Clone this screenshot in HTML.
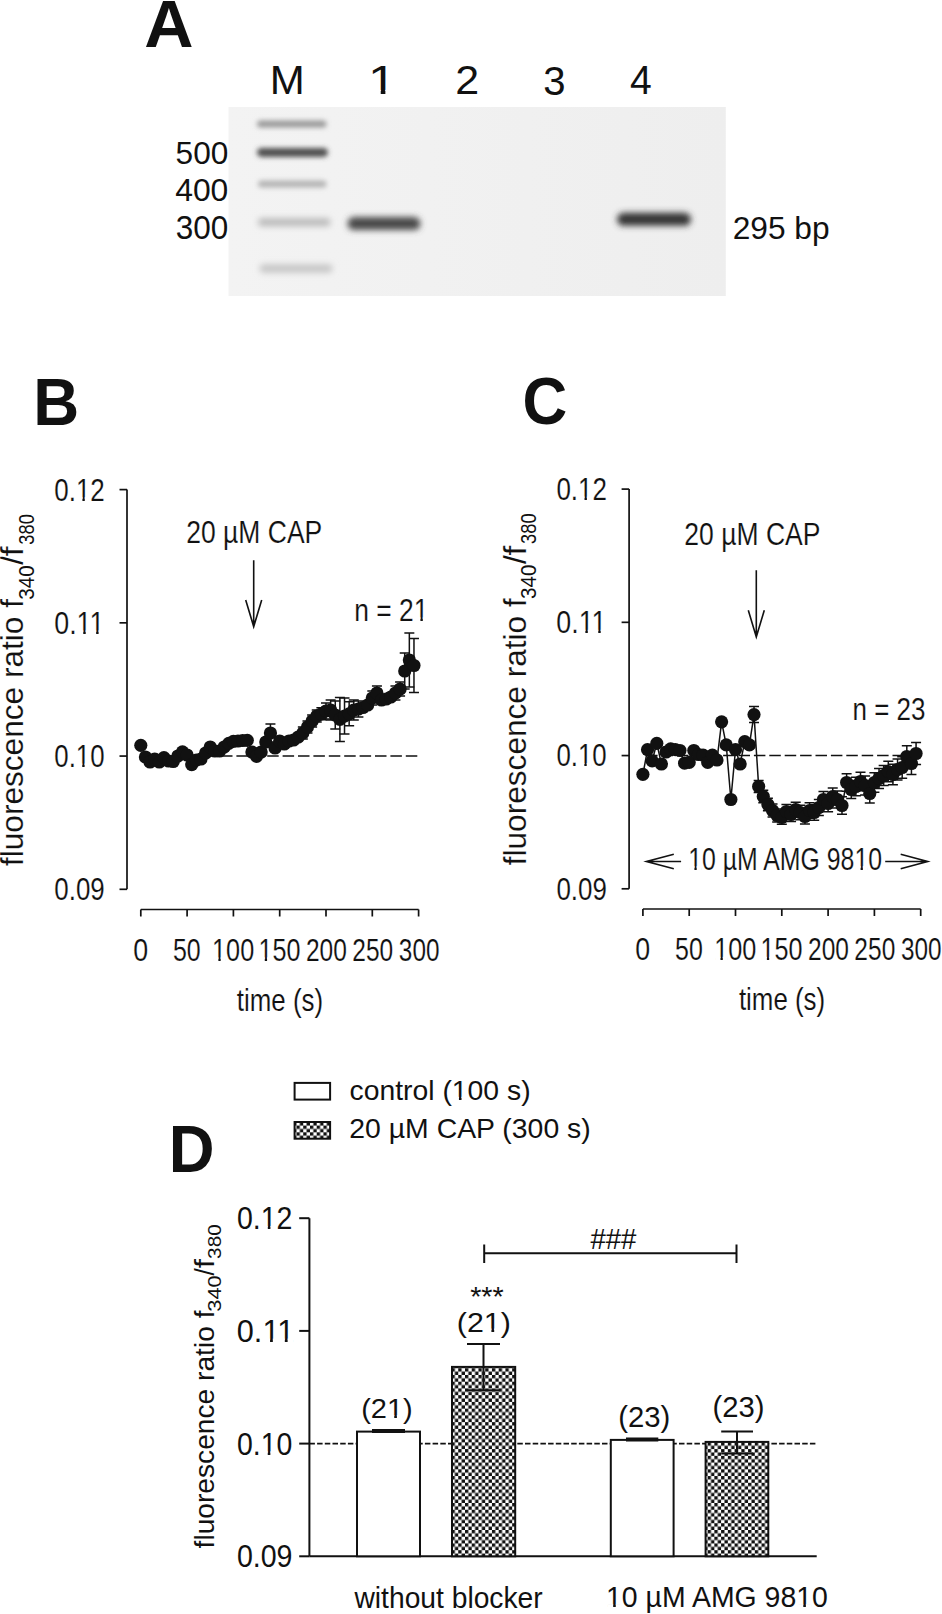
<!DOCTYPE html>
<html><head><meta charset="utf-8"><style>
html,body{margin:0;padding:0;background:#fff;}
svg{display:block;}
text{font-family:"Liberation Sans",sans-serif;}
</style></head><body>
<svg width="942" height="1614" viewBox="0 0 942 1614">
<rect width="942" height="1614" fill="#fff"/>
<g transform="translate(144.30,46.50) scale(1.0188,1)"><text id="t1" font-size="67.01" font-weight="bold" fill="#111">A</text></g>
<g transform="translate(33.14,424.80) scale(0.9453,1)"><text id="t2" font-size="67.3" font-weight="bold" fill="#111">B</text></g>
<g transform="translate(522.56,424.15) scale(0.9272,1)"><text id="t3" font-size="66.81" font-weight="bold" fill="#111">C</text></g>
<g transform="translate(168.66,1171.70) scale(0.9425,1)"><text id="t4" font-size="67.3" font-weight="bold" fill="#111">D</text></g>
<defs><filter id="bl" x="-20%" y="-200%" width="140%" height="500%"><feGaussianBlur stdDeviation="2.2"/></filter><filter id="bl2" x="-20%" y="-200%" width="140%" height="500%"><feGaussianBlur stdDeviation="3"/></filter><filter id="bl3" x="-20%" y="-200%" width="140%" height="500%"><feGaussianBlur stdDeviation="2.6"/></filter><filter id="bl4" x="-20%" y="-200%" width="140%" height="500%"><feGaussianBlur stdDeviation="3"/></filter><linearGradient id="gelg" x1="0" x2="1" y1="0" y2="0"><stop offset="0" stop-color="#f3f3f3"/><stop offset="1" stop-color="#eeeeee"/></linearGradient></defs>
<rect x="228.5" y="107" width="497.3" height="189" fill="url(#gelg)"/>
<rect x="257" y="120.5" width="69.5" height="7" rx="3.5" fill="#999999" filter="url(#bl3)"/>
<rect x="257" y="147.9" width="71" height="9" rx="4.5" fill="#505050" filter="url(#bl3)"/>
<rect x="258" y="180.6" width="68.5" height="7" rx="3.5" fill="#b4b4b4" filter="url(#bl3)"/>
<rect x="258" y="218.3" width="72.5" height="8" rx="4.0" fill="#bababa" filter="url(#bl4)"/>
<rect x="259.5" y="264.35" width="73.0" height="8.5" rx="4.25" fill="#c6c6c6" filter="url(#bl4)"/>
<rect x="347.5" y="217.1" width="73.0" height="13" rx="6.5" fill="#484848" filter="url(#bl4)"/>
<rect x="617" y="212.8" width="74" height="13" rx="6.5" fill="#363636" filter="url(#bl4)"/>
<g transform="translate(269.75,94.40) scale(1.0321,1)"><text id="t5" font-size="40.7" font-weight="normal" fill="#111">M</text></g>
<g transform="translate(368.00,94.40) scale(1.2504,1)"><text id="t6" font-size="40.7" font-weight="normal" fill="#111">1</text><rect x="1.59" y="-4.47" width="8.59" height="5.86" fill="#fff"/><rect x="13.89" y="-4.47" width="8.17" height="5.86" fill="#fff"/></g>
<g transform="translate(455.34,94.40) scale(1.0729,1)"><text id="t7" font-size="40.1" font-weight="normal" fill="#111">2</text></g>
<g transform="translate(543.37,94.50) scale(0.9784,1)"><text id="t8" font-size="40.96" font-weight="normal" fill="#111">3</text></g>
<g transform="translate(630.10,94.20) scale(0.9781,1)"><text id="t9" font-size="39.97" font-weight="normal" fill="#111">4</text></g>
<g transform="translate(175.53,164.09) scale(0.9872,1)"><text id="t10" font-size="32.06" font-weight="normal" fill="#111">500</text></g>
<g transform="translate(175.17,201.19) scale(1.0118,1)"><text id="t11" font-size="31.5" font-weight="normal" fill="#111">400</text></g>
<g transform="translate(175.80,239.48) scale(0.9526,1)"><text id="t12" font-size="33.05" font-weight="normal" fill="#111">300</text></g>
<g transform="translate(732.71,238.90) scale(0.9841,1)"><text id="t13" font-size="32.2" font-weight="normal" fill="#111">295 bp</text></g>
<path d="M127.0,489.6 V889.3" stroke="#111" stroke-width="1.7" fill="none"/>
<path d="M119.5,889.30 H127.0" stroke="#111" stroke-width="1.7"/>
<path d="M119.5,756.07 H127.0" stroke="#111" stroke-width="1.7"/>
<path d="M119.5,622.83 H127.0" stroke="#111" stroke-width="1.7"/>
<path d="M119.5,489.60 H127.0" stroke="#111" stroke-width="1.7"/>
<path d="M140.8,909.5 H418.60" stroke="#111" stroke-width="1.7" fill="none"/>
<path d="M140.80,909.5 V916.5" stroke="#111" stroke-width="1.7"/>
<path d="M187.10,909.5 V916.5" stroke="#111" stroke-width="1.7"/>
<path d="M233.40,909.5 V916.5" stroke="#111" stroke-width="1.7"/>
<path d="M279.70,909.5 V916.5" stroke="#111" stroke-width="1.7"/>
<path d="M326.00,909.5 V916.5" stroke="#111" stroke-width="1.7"/>
<path d="M372.30,909.5 V916.5" stroke="#111" stroke-width="1.7"/>
<path d="M418.60,909.5 V916.5" stroke="#111" stroke-width="1.7"/>
<g transform="translate(133.25,960.87) scale(0.8316,1)"><text id="t14" font-size="32.2" font-weight="normal" fill="#111" stroke="#fff" stroke-width="0.15">0</text></g>
<g transform="translate(172.90,960.87) scale(0.7755,1)"><text id="t15" font-size="32.2" font-weight="normal" fill="#111" stroke="#fff" stroke-width="0.15">50</text></g>
<g transform="translate(212.07,960.87) scale(0.7839,1)"><text id="t16" font-size="32.2" font-weight="normal" fill="#111" stroke="#fff" stroke-width="0.15">100</text><rect x="1.26" y="-3.54" width="6.79" height="4.64" fill="#fff"/><rect x="10.99" y="-3.54" width="6.46" height="4.64" fill="#fff"/></g>
<g transform="translate(258.48,960.87) scale(0.7819,1)"><text id="t17" font-size="32.2" font-weight="normal" fill="#111" stroke="#fff" stroke-width="0.15">150</text><rect x="1.26" y="-3.54" width="6.79" height="4.64" fill="#fff"/><rect x="10.99" y="-3.54" width="6.46" height="4.64" fill="#fff"/></g>
<g transform="translate(305.97,960.87) scale(0.7611,1)"><text id="t18" font-size="32.2" font-weight="normal" fill="#111" stroke="#fff" stroke-width="0.15">200</text></g>
<g transform="translate(352.27,960.87) scale(0.7611,1)"><text id="t19" font-size="32.2" font-weight="normal" fill="#111" stroke="#fff" stroke-width="0.15">250</text></g>
<g transform="translate(398.87,960.87) scale(0.7553,1)"><text id="t20" font-size="32.2" font-weight="normal" fill="#111" stroke="#fff" stroke-width="0.15">300</text></g>
<g transform="translate(54.29,500.50) scale(0.8240,1)"><text id="t21" font-size="31.5" font-weight="normal" fill="#111" stroke="#fff" stroke-width="0.15">0.12</text><rect x="27.49" y="-3.46" width="6.64" height="4.54" fill="#fff"/><rect x="37.01" y="-3.46" width="6.32" height="4.54" fill="#fff"/></g>
<g transform="translate(54.25,633.73) scale(0.8503,1)"><text id="t22" font-size="31.5" font-weight="normal" fill="#111" stroke="#fff" stroke-width="0.15">0.11</text><rect x="27.47" y="-3.46" width="6.64" height="4.54" fill="#fff"/><rect x="37.00" y="-3.46" width="6.32" height="4.54" fill="#fff"/><rect x="42.64" y="-3.46" width="6.64" height="4.54" fill="#fff"/><rect x="52.16" y="-3.46" width="6.32" height="4.54" fill="#fff"/></g>
<g transform="translate(54.29,766.97) scale(0.8191,1)"><text id="t23" font-size="31.5" font-weight="normal" fill="#111" stroke="#fff" stroke-width="0.15">0.10</text><rect x="27.49" y="-3.46" width="6.64" height="4.54" fill="#fff"/><rect x="37.01" y="-3.46" width="6.32" height="4.54" fill="#fff"/></g>
<g transform="translate(54.29,900.20) scale(0.8227,1)"><text id="t24" font-size="31.5" font-weight="normal" fill="#111" stroke="#fff" stroke-width="0.15">0.09</text></g>
<g transform="translate(236.81,1010.60) scale(0.8091,1)"><text id="t25" font-size="32" font-weight="normal" fill="#111" stroke="#fff" stroke-width="0.15">time (s)</text></g>
<path d="M140.8,756.07 H418.60" stroke="#111" stroke-width="1.6" stroke-dasharray="11.5 3.9" stroke-dashoffset="12.2" fill="none"/>
<path d="M270.44,724.00 V742.00 M265.44,724.00 h10 M265.44,742.00 h10" stroke="#111" stroke-width="1.5" fill="none"/>
<path d="M302.85,727.00 V739.00 M297.85,727.00 h10 M297.85,739.00 h10" stroke="#111" stroke-width="1.5" fill="none"/>
<path d="M307.48,721.00 V733.00 M302.48,721.00 h10 M302.48,733.00 h10" stroke="#111" stroke-width="1.5" fill="none"/>
<path d="M312.11,715.00 V727.00 M307.11,715.00 h10 M307.11,727.00 h10" stroke="#111" stroke-width="1.5" fill="none"/>
<path d="M316.74,710.00 V722.00 M311.74,710.00 h10 M311.74,722.00 h10" stroke="#111" stroke-width="1.5" fill="none"/>
<path d="M321.37,707.80 V719.80 M316.37,707.80 h10 M316.37,719.80 h10" stroke="#111" stroke-width="1.5" fill="none"/>
<path d="M326.00,703.00 V719.00 M321.00,703.00 h10 M321.00,719.00 h10" stroke="#111" stroke-width="1.5" fill="none"/>
<path d="M330.63,700.00 V720.00 M325.63,700.00 h10 M325.63,720.00 h10" stroke="#111" stroke-width="1.5" fill="none"/>
<path d="M335.26,701.00 V729.00 M330.26,701.00 h10 M330.26,729.00 h10" stroke="#111" stroke-width="1.5" fill="none"/>
<path d="M339.89,697.40 V741.40 M334.89,697.40 h10 M334.89,741.40 h10" stroke="#111" stroke-width="1.5" fill="none"/>
<path d="M344.52,698.00 V734.00 M339.52,698.00 h10 M339.52,734.00 h10" stroke="#111" stroke-width="1.5" fill="none"/>
<path d="M349.15,701.80 V725.80 M344.15,701.80 h10 M344.15,725.80 h10" stroke="#111" stroke-width="1.5" fill="none"/>
<path d="M353.78,700.00 V720.00 M348.78,700.00 h10 M348.78,720.00 h10" stroke="#111" stroke-width="1.5" fill="none"/>
<path d="M358.41,701.00 V717.00 M353.41,701.00 h10 M353.41,717.00 h10" stroke="#111" stroke-width="1.5" fill="none"/>
<path d="M372.30,691.00 V705.00 M367.30,691.00 h10 M367.30,705.00 h10" stroke="#111" stroke-width="1.5" fill="none"/>
<path d="M376.93,686.00 V700.00 M371.93,686.00 h10 M371.93,700.00 h10" stroke="#111" stroke-width="1.5" fill="none"/>
<path d="M395.45,686.00 V700.00 M390.45,686.00 h10 M390.45,700.00 h10" stroke="#111" stroke-width="1.5" fill="none"/>
<path d="M400.08,682.00 V696.00 M395.08,682.00 h10 M395.08,696.00 h10" stroke="#111" stroke-width="1.5" fill="none"/>
<path d="M404.71,653.00 V689.00 M399.71,653.00 h10 M399.71,689.00 h10" stroke="#111" stroke-width="1.5" fill="none"/>
<path d="M409.34,633.00 V687.00 M404.34,633.00 h10 M404.34,687.00 h10" stroke="#111" stroke-width="1.5" fill="none"/>
<path d="M413.97,638.50 V692.50 M408.97,638.50 h10 M408.97,692.50 h10" stroke="#111" stroke-width="1.5" fill="none"/>
<circle cx="140.80" cy="745.30" r="6.6" fill="#111"/>
<circle cx="145.43" cy="757.00" r="6.6" fill="#111"/>
<circle cx="150.06" cy="762.00" r="6.6" fill="#111"/>
<circle cx="154.69" cy="759.00" r="6.6" fill="#111"/>
<circle cx="159.32" cy="762.00" r="6.6" fill="#111"/>
<circle cx="163.95" cy="757.60" r="6.6" fill="#111"/>
<circle cx="168.58" cy="761.00" r="6.6" fill="#111"/>
<circle cx="173.21" cy="761.50" r="6.6" fill="#111"/>
<circle cx="177.84" cy="756.00" r="6.6" fill="#111"/>
<circle cx="182.47" cy="751.80" r="6.6" fill="#111"/>
<circle cx="187.10" cy="755.00" r="6.6" fill="#111"/>
<circle cx="191.73" cy="764.70" r="6.6" fill="#111"/>
<circle cx="196.36" cy="760.00" r="6.6" fill="#111"/>
<circle cx="200.99" cy="759.00" r="6.6" fill="#111"/>
<circle cx="205.62" cy="753.00" r="6.6" fill="#111"/>
<circle cx="210.25" cy="747.00" r="6.6" fill="#111"/>
<circle cx="214.88" cy="751.00" r="6.6" fill="#111"/>
<circle cx="219.51" cy="751.00" r="6.6" fill="#111"/>
<circle cx="224.14" cy="747.00" r="6.6" fill="#111"/>
<circle cx="228.77" cy="743.30" r="6.6" fill="#111"/>
<circle cx="233.40" cy="741.30" r="6.6" fill="#111"/>
<circle cx="238.03" cy="741.00" r="6.6" fill="#111"/>
<circle cx="242.66" cy="740.50" r="6.6" fill="#111"/>
<circle cx="247.29" cy="740.30" r="6.6" fill="#111"/>
<circle cx="251.92" cy="752.00" r="6.6" fill="#111"/>
<circle cx="256.55" cy="756.30" r="6.6" fill="#111"/>
<circle cx="261.18" cy="752.00" r="6.6" fill="#111"/>
<circle cx="265.81" cy="742.00" r="6.6" fill="#111"/>
<circle cx="270.44" cy="733.00" r="6.6" fill="#111"/>
<circle cx="275.07" cy="748.00" r="6.6" fill="#111"/>
<circle cx="279.70" cy="741.00" r="6.6" fill="#111"/>
<circle cx="284.33" cy="744.00" r="6.6" fill="#111"/>
<circle cx="288.96" cy="741.00" r="6.6" fill="#111"/>
<circle cx="293.59" cy="740.00" r="6.6" fill="#111"/>
<circle cx="298.22" cy="737.00" r="6.6" fill="#111"/>
<circle cx="302.85" cy="733.00" r="6.6" fill="#111"/>
<circle cx="307.48" cy="727.00" r="6.6" fill="#111"/>
<circle cx="312.11" cy="721.00" r="6.6" fill="#111"/>
<circle cx="316.74" cy="716.00" r="6.6" fill="#111"/>
<circle cx="321.37" cy="713.80" r="6.6" fill="#111"/>
<circle cx="326.00" cy="711.00" r="6.6" fill="#111"/>
<circle cx="330.63" cy="710.00" r="6.6" fill="#111"/>
<circle cx="335.26" cy="715.00" r="6.6" fill="#111"/>
<circle cx="339.89" cy="719.40" r="6.6" fill="#111"/>
<circle cx="344.52" cy="716.00" r="6.6" fill="#111"/>
<circle cx="349.15" cy="713.80" r="6.6" fill="#111"/>
<circle cx="353.78" cy="710.00" r="6.6" fill="#111"/>
<circle cx="358.41" cy="709.00" r="6.6" fill="#111"/>
<circle cx="363.04" cy="707.50" r="6.6" fill="#111"/>
<circle cx="367.67" cy="705.00" r="6.6" fill="#111"/>
<circle cx="372.30" cy="698.00" r="6.6" fill="#111"/>
<circle cx="376.93" cy="693.00" r="6.6" fill="#111"/>
<circle cx="381.56" cy="700.00" r="6.6" fill="#111"/>
<circle cx="386.19" cy="699.00" r="6.6" fill="#111"/>
<circle cx="390.82" cy="697.00" r="6.6" fill="#111"/>
<circle cx="395.45" cy="693.00" r="6.6" fill="#111"/>
<circle cx="400.08" cy="689.00" r="6.6" fill="#111"/>
<circle cx="404.71" cy="671.00" r="6.6" fill="#111"/>
<circle cx="409.34" cy="660.00" r="6.6" fill="#111"/>
<circle cx="413.97" cy="665.50" r="6.6" fill="#111"/>
<g transform="translate(354.35,620.80) scale(0.8254,1)"><text id="t26" font-size="32" font-weight="normal" fill="#111" stroke="#fff" stroke-width="0.15">n = 21</text><rect x="73.27" y="-3.52" width="6.75" height="4.61" fill="#fff"/><rect x="82.94" y="-3.52" width="6.42" height="4.61" fill="#fff"/></g>
<path d="M629.1,489.1 V888.8" stroke="#111" stroke-width="1.7" fill="none"/>
<path d="M621.6,888.80 H629.1" stroke="#111" stroke-width="1.7"/>
<path d="M621.6,755.57 H629.1" stroke="#111" stroke-width="1.7"/>
<path d="M621.6,622.33 H629.1" stroke="#111" stroke-width="1.7"/>
<path d="M621.6,489.10 H629.1" stroke="#111" stroke-width="1.7"/>
<path d="M642.9000000000001,909.0 H920.70" stroke="#111" stroke-width="1.7" fill="none"/>
<path d="M642.90,909.0 V916.0" stroke="#111" stroke-width="1.7"/>
<path d="M689.20,909.0 V916.0" stroke="#111" stroke-width="1.7"/>
<path d="M735.50,909.0 V916.0" stroke="#111" stroke-width="1.7"/>
<path d="M781.80,909.0 V916.0" stroke="#111" stroke-width="1.7"/>
<path d="M828.10,909.0 V916.0" stroke="#111" stroke-width="1.7"/>
<path d="M874.40,909.0 V916.0" stroke="#111" stroke-width="1.7"/>
<path d="M920.70,909.0 V916.0" stroke="#111" stroke-width="1.7"/>
<g transform="translate(635.35,960.37) scale(0.8316,1)"><text id="t27" font-size="32.2" font-weight="normal" fill="#111" stroke="#fff" stroke-width="0.15">0</text></g>
<g transform="translate(675.00,960.37) scale(0.7755,1)"><text id="t28" font-size="32.2" font-weight="normal" fill="#111" stroke="#fff" stroke-width="0.15">50</text></g>
<g transform="translate(714.17,960.37) scale(0.7839,1)"><text id="t29" font-size="32.2" font-weight="normal" fill="#111" stroke="#fff" stroke-width="0.15">100</text><rect x="1.26" y="-3.54" width="6.79" height="4.64" fill="#fff"/><rect x="10.99" y="-3.54" width="6.46" height="4.64" fill="#fff"/></g>
<g transform="translate(760.58,960.37) scale(0.7819,1)"><text id="t30" font-size="32.2" font-weight="normal" fill="#111" stroke="#fff" stroke-width="0.15">150</text><rect x="1.26" y="-3.54" width="6.79" height="4.64" fill="#fff"/><rect x="10.99" y="-3.54" width="6.46" height="4.64" fill="#fff"/></g>
<g transform="translate(808.07,960.37) scale(0.7611,1)"><text id="t31" font-size="32.2" font-weight="normal" fill="#111" stroke="#fff" stroke-width="0.15">200</text></g>
<g transform="translate(854.37,960.37) scale(0.7611,1)"><text id="t32" font-size="32.2" font-weight="normal" fill="#111" stroke="#fff" stroke-width="0.15">250</text></g>
<g transform="translate(900.97,960.37) scale(0.7553,1)"><text id="t33" font-size="32.2" font-weight="normal" fill="#111" stroke="#fff" stroke-width="0.15">300</text></g>
<g transform="translate(556.39,500.00) scale(0.8240,1)"><text id="t34" font-size="31.5" font-weight="normal" fill="#111" stroke="#fff" stroke-width="0.15">0.12</text><rect x="27.49" y="-3.46" width="6.64" height="4.54" fill="#fff"/><rect x="37.01" y="-3.46" width="6.32" height="4.54" fill="#fff"/></g>
<g transform="translate(556.35,633.23) scale(0.8503,1)"><text id="t35" font-size="31.5" font-weight="normal" fill="#111" stroke="#fff" stroke-width="0.15">0.11</text><rect x="27.47" y="-3.46" width="6.64" height="4.54" fill="#fff"/><rect x="37.00" y="-3.46" width="6.32" height="4.54" fill="#fff"/><rect x="42.64" y="-3.46" width="6.64" height="4.54" fill="#fff"/><rect x="52.16" y="-3.46" width="6.32" height="4.54" fill="#fff"/></g>
<g transform="translate(556.39,766.47) scale(0.8191,1)"><text id="t36" font-size="31.5" font-weight="normal" fill="#111" stroke="#fff" stroke-width="0.15">0.10</text><rect x="27.49" y="-3.46" width="6.64" height="4.54" fill="#fff"/><rect x="37.01" y="-3.46" width="6.32" height="4.54" fill="#fff"/></g>
<g transform="translate(556.39,899.70) scale(0.8227,1)"><text id="t37" font-size="31.5" font-weight="normal" fill="#111" stroke="#fff" stroke-width="0.15">0.09</text></g>
<g transform="translate(738.91,1010.10) scale(0.8091,1)"><text id="t38" font-size="32" font-weight="normal" fill="#111" stroke="#fff" stroke-width="0.15">time (s)</text></g>
<path d="M642.9000000000001,755.57 H920.70" stroke="#111" stroke-width="1.6" stroke-dasharray="11.5 3.9" stroke-dashoffset="12.2" fill="none"/>
<path d="M642.90,774.30 L647.53,749.70 L652.16,760.80 L656.79,743.30 L661.42,764.00 L666.05,752.00 L670.68,748.90 L675.31,749.70 L679.94,750.50 L684.57,763.20 L689.20,762.40 L693.83,750.50 L698.46,754.50 L703.09,755.20 L707.72,762.40 L712.35,755.20 L716.98,760.00 L721.61,721.80 L726.24,744.90 L730.87,799.50 L735.50,749.70 L740.13,764.00 L744.76,741.70 L749.39,744.90 L754.02,714.60 L758.65,786.50 L763.28,796.50 L767.91,804.50 L772.54,810.50 L777.17,815.50 L781.80,817.50 L786.43,811.50 L791.06,814.50 L795.69,809.50 L800.32,812.50 L804.95,816.50 L809.58,810.50 L814.21,812.50 L818.84,807.50 L823.47,799.50 L828.10,803.50 L832.73,796.50 L837.36,799.50 L841.99,805.50 L846.62,782.50 L851.25,789.50 L855.88,786.50 L860.51,781.50 L865.14,785.50 L869.77,793.50 L874.40,782.50 L879.03,778.50 L883.66,775.50 L888.29,771.50 L892.92,774.50 L897.55,769.50 L902.18,767.50 L906.81,756.50 L911.44,763.50 L916.07,753.50" stroke="#111" stroke-width="1.5" fill="none"/>
<path d="M754.02,706.60 V722.60 M749.02,706.60 h10 M749.02,722.60 h10" stroke="#111" stroke-width="1.5" fill="none"/>
<path d="M758.65,780.50 V792.50 M753.65,780.50 h10 M753.65,792.50 h10" stroke="#111" stroke-width="1.5" fill="none"/>
<path d="M763.28,790.35 V802.65 M758.28,790.35 h10 M758.28,802.65 h10" stroke="#111" stroke-width="1.5" fill="none"/>
<path d="M767.91,798.20 V810.80 M762.91,798.20 h10 M762.91,810.80 h10" stroke="#111" stroke-width="1.5" fill="none"/>
<path d="M772.54,804.05 V816.95 M767.54,804.05 h10 M767.54,816.95 h10" stroke="#111" stroke-width="1.5" fill="none"/>
<path d="M777.17,808.90 V822.10 M772.17,808.90 h10 M772.17,822.10 h10" stroke="#111" stroke-width="1.5" fill="none"/>
<path d="M781.80,810.75 V824.25 M776.80,810.75 h10 M776.80,824.25 h10" stroke="#111" stroke-width="1.5" fill="none"/>
<path d="M786.43,804.60 V818.40 M781.43,804.60 h10 M781.43,818.40 h10" stroke="#111" stroke-width="1.5" fill="none"/>
<path d="M791.06,807.45 V821.55 M786.06,807.45 h10 M786.06,821.55 h10" stroke="#111" stroke-width="1.5" fill="none"/>
<path d="M795.69,802.30 V816.70 M790.69,802.30 h10 M790.69,816.70 h10" stroke="#111" stroke-width="1.5" fill="none"/>
<path d="M800.32,805.15 V819.85 M795.32,805.15 h10 M795.32,819.85 h10" stroke="#111" stroke-width="1.5" fill="none"/>
<path d="M804.95,809.00 V824.00 M799.95,809.00 h10 M799.95,824.00 h10" stroke="#111" stroke-width="1.5" fill="none"/>
<path d="M809.58,802.85 V818.15 M804.58,802.85 h10 M804.58,818.15 h10" stroke="#111" stroke-width="1.5" fill="none"/>
<path d="M814.21,804.70 V820.30 M809.21,804.70 h10 M809.21,820.30 h10" stroke="#111" stroke-width="1.5" fill="none"/>
<path d="M818.84,799.55 V815.45 M813.84,799.55 h10 M813.84,815.45 h10" stroke="#111" stroke-width="1.5" fill="none"/>
<path d="M823.47,791.40 V807.60 M818.47,791.40 h10 M818.47,807.60 h10" stroke="#111" stroke-width="1.5" fill="none"/>
<path d="M828.10,795.25 V811.75 M823.10,795.25 h10 M823.10,811.75 h10" stroke="#111" stroke-width="1.5" fill="none"/>
<path d="M832.73,788.10 V804.90 M827.73,788.10 h10 M827.73,804.90 h10" stroke="#111" stroke-width="1.5" fill="none"/>
<path d="M837.36,790.95 V808.05 M832.36,790.95 h10 M832.36,808.05 h10" stroke="#111" stroke-width="1.5" fill="none"/>
<path d="M841.99,796.80 V814.20 M836.99,796.80 h10 M836.99,814.20 h10" stroke="#111" stroke-width="1.5" fill="none"/>
<path d="M846.62,773.65 V791.35 M841.62,773.65 h10 M841.62,791.35 h10" stroke="#111" stroke-width="1.5" fill="none"/>
<path d="M851.25,780.50 V798.50 M846.25,780.50 h10 M846.25,798.50 h10" stroke="#111" stroke-width="1.5" fill="none"/>
<path d="M855.88,777.35 V795.65 M850.88,777.35 h10 M850.88,795.65 h10" stroke="#111" stroke-width="1.5" fill="none"/>
<path d="M860.51,772.20 V790.80 M855.51,772.20 h10 M855.51,790.80 h10" stroke="#111" stroke-width="1.5" fill="none"/>
<path d="M865.14,776.05 V794.95 M860.14,776.05 h10 M860.14,794.95 h10" stroke="#111" stroke-width="1.5" fill="none"/>
<path d="M869.77,783.90 V803.10 M864.77,783.90 h10 M864.77,803.10 h10" stroke="#111" stroke-width="1.5" fill="none"/>
<path d="M874.40,772.75 V792.25 M869.40,772.75 h10 M869.40,792.25 h10" stroke="#111" stroke-width="1.5" fill="none"/>
<path d="M879.03,768.60 V788.40 M874.03,768.60 h10 M874.03,788.40 h10" stroke="#111" stroke-width="1.5" fill="none"/>
<path d="M883.66,765.45 V785.55 M878.66,765.45 h10 M878.66,785.55 h10" stroke="#111" stroke-width="1.5" fill="none"/>
<path d="M888.29,761.30 V781.70 M883.29,761.30 h10 M883.29,781.70 h10" stroke="#111" stroke-width="1.5" fill="none"/>
<path d="M892.92,764.15 V784.85 M887.92,764.15 h10 M887.92,784.85 h10" stroke="#111" stroke-width="1.5" fill="none"/>
<path d="M897.55,759.00 V780.00 M892.55,759.00 h10 M892.55,780.00 h10" stroke="#111" stroke-width="1.5" fill="none"/>
<path d="M902.18,756.85 V778.15 M897.18,756.85 h10 M897.18,778.15 h10" stroke="#111" stroke-width="1.5" fill="none"/>
<path d="M906.81,745.70 V767.30 M901.81,745.70 h10 M901.81,767.30 h10" stroke="#111" stroke-width="1.5" fill="none"/>
<path d="M911.44,752.55 V774.45 M906.44,752.55 h10 M906.44,774.45 h10" stroke="#111" stroke-width="1.5" fill="none"/>
<path d="M916.07,742.40 V764.60 M911.07,742.40 h10 M911.07,764.60 h10" stroke="#111" stroke-width="1.5" fill="none"/>
<circle cx="642.90" cy="774.30" r="6.6" fill="#111"/>
<circle cx="647.53" cy="749.70" r="6.6" fill="#111"/>
<circle cx="652.16" cy="760.80" r="6.6" fill="#111"/>
<circle cx="656.79" cy="743.30" r="6.6" fill="#111"/>
<circle cx="661.42" cy="764.00" r="6.6" fill="#111"/>
<circle cx="666.05" cy="752.00" r="6.6" fill="#111"/>
<circle cx="670.68" cy="748.90" r="6.6" fill="#111"/>
<circle cx="675.31" cy="749.70" r="6.6" fill="#111"/>
<circle cx="679.94" cy="750.50" r="6.6" fill="#111"/>
<circle cx="684.57" cy="763.20" r="6.6" fill="#111"/>
<circle cx="689.20" cy="762.40" r="6.6" fill="#111"/>
<circle cx="693.83" cy="750.50" r="6.6" fill="#111"/>
<circle cx="698.46" cy="754.50" r="6.6" fill="#111"/>
<circle cx="703.09" cy="755.20" r="6.6" fill="#111"/>
<circle cx="707.72" cy="762.40" r="6.6" fill="#111"/>
<circle cx="712.35" cy="755.20" r="6.6" fill="#111"/>
<circle cx="716.98" cy="760.00" r="6.6" fill="#111"/>
<circle cx="721.61" cy="721.80" r="6.6" fill="#111"/>
<circle cx="726.24" cy="744.90" r="6.6" fill="#111"/>
<circle cx="730.87" cy="799.50" r="6.6" fill="#111"/>
<circle cx="735.50" cy="749.70" r="6.6" fill="#111"/>
<circle cx="740.13" cy="764.00" r="6.6" fill="#111"/>
<circle cx="744.76" cy="741.70" r="6.6" fill="#111"/>
<circle cx="749.39" cy="744.90" r="6.6" fill="#111"/>
<circle cx="754.02" cy="714.60" r="6.6" fill="#111"/>
<circle cx="758.65" cy="786.50" r="6.6" fill="#111"/>
<circle cx="763.28" cy="796.50" r="6.6" fill="#111"/>
<circle cx="767.91" cy="804.50" r="6.6" fill="#111"/>
<circle cx="772.54" cy="810.50" r="6.6" fill="#111"/>
<circle cx="777.17" cy="815.50" r="6.6" fill="#111"/>
<circle cx="781.80" cy="817.50" r="6.6" fill="#111"/>
<circle cx="786.43" cy="811.50" r="6.6" fill="#111"/>
<circle cx="791.06" cy="814.50" r="6.6" fill="#111"/>
<circle cx="795.69" cy="809.50" r="6.6" fill="#111"/>
<circle cx="800.32" cy="812.50" r="6.6" fill="#111"/>
<circle cx="804.95" cy="816.50" r="6.6" fill="#111"/>
<circle cx="809.58" cy="810.50" r="6.6" fill="#111"/>
<circle cx="814.21" cy="812.50" r="6.6" fill="#111"/>
<circle cx="818.84" cy="807.50" r="6.6" fill="#111"/>
<circle cx="823.47" cy="799.50" r="6.6" fill="#111"/>
<circle cx="828.10" cy="803.50" r="6.6" fill="#111"/>
<circle cx="832.73" cy="796.50" r="6.6" fill="#111"/>
<circle cx="837.36" cy="799.50" r="6.6" fill="#111"/>
<circle cx="841.99" cy="805.50" r="6.6" fill="#111"/>
<circle cx="846.62" cy="782.50" r="6.6" fill="#111"/>
<circle cx="851.25" cy="789.50" r="6.6" fill="#111"/>
<circle cx="855.88" cy="786.50" r="6.6" fill="#111"/>
<circle cx="860.51" cy="781.50" r="6.6" fill="#111"/>
<circle cx="865.14" cy="785.50" r="6.6" fill="#111"/>
<circle cx="869.77" cy="793.50" r="6.6" fill="#111"/>
<circle cx="874.40" cy="782.50" r="6.6" fill="#111"/>
<circle cx="879.03" cy="778.50" r="6.6" fill="#111"/>
<circle cx="883.66" cy="775.50" r="6.6" fill="#111"/>
<circle cx="888.29" cy="771.50" r="6.6" fill="#111"/>
<circle cx="892.92" cy="774.50" r="6.6" fill="#111"/>
<circle cx="897.55" cy="769.50" r="6.6" fill="#111"/>
<circle cx="902.18" cy="767.50" r="6.6" fill="#111"/>
<circle cx="906.81" cy="756.50" r="6.6" fill="#111"/>
<circle cx="911.44" cy="763.50" r="6.6" fill="#111"/>
<circle cx="916.07" cy="753.50" r="6.6" fill="#111"/>
<g transform="translate(852.57,720.30) scale(0.8120,1)"><text id="t39" font-size="32" font-weight="normal" fill="#111" stroke="#fff" stroke-width="0.15">n = 23</text></g>
<g transform="translate(186.27,543.40) scale(0.8413,1)"><text id="t40" font-size="31.5" font-weight="normal" fill="#111" stroke="#fff" stroke-width="0.15">20 µM CAP</text></g>
<path d="M253.7,560.2 V626.6 M245.7,600.0 L253.7,626.6 L261.7,600.0" stroke="#111" stroke-width="1.6" fill="none"/>
<g transform="translate(684.27,544.80) scale(0.8425,1)"><text id="t41" font-size="31.5" font-weight="normal" fill="#111" stroke="#fff" stroke-width="0.15">20 µM CAP</text></g>
<path d="M756.3,570.3 V637 M748.3,610.2 L756.3,637 L764.3,610.2" stroke="#111" stroke-width="1.6" fill="none"/>
<g transform="translate(688.21,869.50) scale(0.7888,1)"><text id="t42" font-size="31.5" font-weight="normal" fill="#111" stroke="#fff" stroke-width="0.15">10 µM AMG 9810</text><rect x="1.23" y="-3.46" width="6.64" height="4.54" fill="#fff"/><rect x="10.75" y="-3.46" width="6.32" height="4.54" fill="#fff"/><rect x="211.89" y="-3.46" width="6.64" height="4.54" fill="#fff"/><rect x="221.41" y="-3.46" width="6.32" height="4.54" fill="#fff"/></g>
<path d="M646.4,861.5 H681.1 M673.8,854.3 L646.4,861.5 L673.8,868.7" stroke="#111" stroke-width="1.6" fill="none"/>
<path d="M885.2,861.5 H927.7 M900.7,854.3 L927.7,861.5 L900.7,868.7" stroke="#111" stroke-width="1.6" fill="none"/>
<text transform="translate(23.40,865.60) rotate(-90) translate(-0.45,0) scale(1.0033,1)" font-size="31.50" fill="#111" stroke="#fff" stroke-width="0.15">fluorescence ratio f</text>
<text transform="translate(33.90,865.60) rotate(-90) translate(265.81,0) scale(0.9623,1)" font-size="21.42" fill="#111">340</text>
<text transform="translate(23.40,865.60) rotate(-90) translate(300.90,0) scale(0.9941,1)" font-size="31.50" fill="#111" stroke="#fff" stroke-width="0.15">/</text>
<text transform="translate(23.40,865.60) rotate(-90) translate(309.30,0) scale(1.1135,1)" font-size="31.50" fill="#111" stroke="#fff" stroke-width="0.15">f</text>
<text transform="translate(33.90,865.60) rotate(-90) translate(320.90,0) scale(0.8537,1)" font-size="21.42" fill="#111">380</text>
<text transform="translate(525.80,864.80) rotate(-90) translate(-0.45,0) scale(1.0033,1)" font-size="31.50" fill="#111" stroke="#fff" stroke-width="0.15">fluorescence ratio f</text>
<text transform="translate(536.30,864.80) rotate(-90) translate(265.81,0) scale(0.9623,1)" font-size="21.42" fill="#111">340</text>
<text transform="translate(525.80,864.80) rotate(-90) translate(300.90,0) scale(0.9941,1)" font-size="31.50" fill="#111" stroke="#fff" stroke-width="0.15">/</text>
<text transform="translate(525.80,864.80) rotate(-90) translate(309.30,0) scale(1.1135,1)" font-size="31.50" fill="#111" stroke="#fff" stroke-width="0.15">f</text>
<text transform="translate(536.30,864.80) rotate(-90) translate(320.90,0) scale(0.8537,1)" font-size="21.42" fill="#111">380</text>
<defs><pattern id="chk" width="6.74" height="6.74" patternUnits="userSpaceOnUse" x="451.5" y="0"><rect width="6.74" height="6.74" fill="#fff"/><rect width="3.37" height="3.37" fill="#111"/><rect x="3.37" y="3.37" width="3.37" height="3.37" fill="#111"/></pattern></defs>
<path d="M309.4,1218.20 V1556.3" stroke="#111" stroke-width="2" fill="none"/>
<path d="M299.2,1556.30 H309.4" stroke="#111" stroke-width="2"/>
<path d="M299.2,1443.60 H309.4" stroke="#111" stroke-width="2"/>
<path d="M299.2,1330.90 H309.4" stroke="#111" stroke-width="2"/>
<path d="M299.2,1218.20 H309.4" stroke="#111" stroke-width="2"/>
<path d="M309.4,1556.3 H816.7" stroke="#111" stroke-width="2" fill="none"/>
<path d="M309.4,1443.60 H817.5" stroke="#111" stroke-width="1.6" stroke-dasharray="5.5 2.2" fill="none"/>
<rect x="357" y="1431.6" width="63" height="124.70000000000005" fill="#fff" stroke="#111" stroke-width="2"/>
<rect x="452" y="1366.9" width="63.200000000000045" height="189.39999999999986" fill="url(#chk)" stroke="#111" stroke-width="2"/>
<rect x="610.8" y="1439.9" width="62.80000000000007" height="116.39999999999986" fill="#fff" stroke="#111" stroke-width="2"/>
<rect x="705.6" y="1441.9" width="62.69999999999993" height="114.39999999999986" fill="url(#chk)" stroke="#111" stroke-width="2"/>
<path d="M372,1431 H405" stroke="#111" stroke-width="4"/>
<path d="M626,1439.5 H658.3" stroke="#111" stroke-width="4"/>
<path d="M483.5,1344 V1390.2 M467,1344 H500 M467,1390.2 H500" stroke="#111" stroke-width="2" fill="none"/>
<path d="M737,1431.5 V1453.4 M721.2,1431.5 H753 M721.2,1453.4 H753" stroke="#111" stroke-width="2" fill="none"/>
<path d="M484.2,1253.3 H736.5 M484.2,1244.5 V1263.1 M736.5,1244.5 V1263.1" stroke="#111" stroke-width="2" fill="none"/>
<g transform="translate(590.38,1248.90) scale(0.9257,1)"><text id="t43" font-size="29.82" font-weight="normal" fill="#111">###</text></g>
<g transform="translate(470.14,1306.00) scale(1.0071,1)"><text id="t44" font-size="28.5" font-weight="normal" fill="#111">***</text></g>
<g transform="translate(361.20,1418.31) scale(1.0202,1)"><text id="t45" font-size="28.44" font-weight="normal" fill="#111">(21)</text><rect x="26.39" y="-3.12" width="6.00" height="4.10" fill="#fff"/><rect x="34.98" y="-3.12" width="5.71" height="4.10" fill="#fff"/></g>
<g transform="translate(456.81,1331.53) scale(1.1109,1)"><text id="t46" font-size="27.37" font-weight="normal" fill="#111">(21)</text><rect x="25.37" y="-3.01" width="5.77" height="3.94" fill="#fff"/><rect x="33.65" y="-3.01" width="5.49" height="3.94" fill="#fff"/></g>
<g transform="translate(618.18,1426.89) scale(0.9931,1)"><text id="t47" font-size="29.52" font-weight="normal" fill="#111">(23)</text></g>
<g transform="translate(712.49,1416.80) scale(1.0096,1)"><text id="t48" font-size="28.98" font-weight="normal" fill="#111">(23)</text></g>
<g transform="translate(236.89,1229.30) scale(0.9358,1)"><text id="t49" font-size="30.5" font-weight="normal" fill="#111">0.12</text><rect x="26.60" y="-3.35" width="6.43" height="4.39" fill="#fff"/><rect x="35.82" y="-3.35" width="6.12" height="4.39" fill="#fff"/></g>
<g transform="translate(236.80,1342.00) scale(1.0059,1)"><text id="t50" font-size="30.5" font-weight="normal" fill="#111">0.11</text><rect x="26.62" y="-3.35" width="6.43" height="4.39" fill="#fff"/><rect x="35.83" y="-3.35" width="6.12" height="4.39" fill="#fff"/><rect x="41.31" y="-3.35" width="6.43" height="4.39" fill="#fff"/><rect x="50.53" y="-3.35" width="6.12" height="4.39" fill="#fff"/></g>
<g transform="translate(236.89,1454.70) scale(0.9337,1)"><text id="t51" font-size="30.5" font-weight="normal" fill="#111">0.10</text><rect x="26.61" y="-3.35" width="6.43" height="4.39" fill="#fff"/><rect x="35.83" y="-3.35" width="6.12" height="4.39" fill="#fff"/></g>
<g transform="translate(236.88,1567.40) scale(0.9378,1)"><text id="t52" font-size="30.5" font-weight="normal" fill="#111">0.09</text></g>
<rect x="294.6" y="1082.9" width="35.5" height="16.7" fill="#fff" stroke="#111" stroke-width="2"/>
<rect x="294.6" y="1122" width="35.5" height="16.7" fill="url(#chk)" stroke="#111" stroke-width="2"/>
<g transform="translate(349.50,1099.90) scale(1.0128,1)"><text id="t53" font-size="28" font-weight="normal" fill="#111">control (100 s)</text><rect x="102.15" y="-3.08" width="5.91" height="4.03" fill="#fff"/><rect x="110.61" y="-3.08" width="5.62" height="4.03" fill="#fff"/></g>
<g transform="translate(349.27,1138.40) scale(0.9966,1)"><text id="t54" font-size="28.5" font-weight="normal" fill="#111">20 µM CAP (300 s)</text></g>
<g transform="translate(354.44,1608.10) scale(0.9736,1)"><text id="t55" font-size="29" font-weight="normal" fill="#111">without blocker</text></g>
<g transform="translate(606.06,1607.30) scale(0.9805,1)"><text id="t56" font-size="29" font-weight="normal" fill="#111">10 µM AMG 9810</text><rect x="1.13" y="-3.19" width="6.12" height="4.18" fill="#fff"/><rect x="9.90" y="-3.19" width="5.82" height="4.18" fill="#fff"/><rect x="195.03" y="-3.19" width="6.12" height="4.18" fill="#fff"/><rect x="203.79" y="-3.19" width="5.82" height="4.18" fill="#fff"/></g>
<text transform="translate(213.60,1548.00) rotate(-90) translate(-0.40,0) scale(1.0168,1)" font-size="27.70" fill="#111">fluorescence ratio f</text>
<text transform="translate(220.80,1548.00) rotate(-90) translate(236.37,0) scale(1.1543,1)" font-size="18.84" fill="#111">340</text>
<text transform="translate(213.60,1548.00) rotate(-90) translate(272.60,0) scale(0.9486,1)" font-size="27.70" fill="#111">/</text>
<text transform="translate(213.60,1548.00) rotate(-90) translate(279.83,0) scale(1.1982,1)" font-size="27.70" fill="#111">f</text>
<text transform="translate(220.80,1548.00) rotate(-90) translate(289.11,0) scale(1.1010,1)" font-size="18.84" fill="#111">380</text>
</svg></body></html>
